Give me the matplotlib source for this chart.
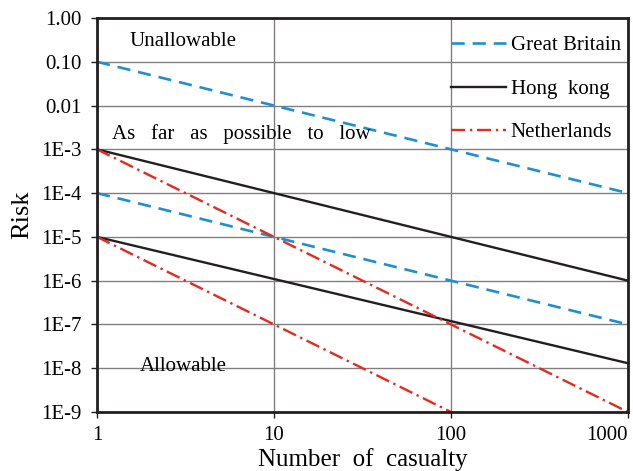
import matplotlib
matplotlib.use('Agg')
import matplotlib.pyplot as plt

plt.rcParams['font.family'] = ['Liberation Serif', 'DejaVu Serif']

# casualty numbers (x) and risk values (y) for each criterion line
gb_x = [1, 1000]
gb_upper = [1e-1, 1e-4]
gb_lower = [1e-4, 1e-7]

hk_x = [1, 1000]
hk_upper = [1e-3, 1e-6]
hk_lower = [1e-5, 1.3e-8]

nl_upper_x = [1, 1000]
nl_upper = [1e-3, 1e-9]
nl_lower_x = [1, 100]
nl_lower = [1e-5, 1e-9]

x_ticks = [1, 10, 100, 1000]
x_labels = ['1', '10', '100', '1000']
y_ticks = [1, 1e-1, 1e-2, 1e-3, 1e-4, 1e-5, 1e-6, 1e-7, 1e-8, 1e-9]
y_labels = ['1.00', '0.10', '0.01', '1E-3', '1E-4', '1E-5', '1E-6', '1E-7', '1E-8', '1E-9']

blue = '#1f8fd2'
black = '#231f20'
red = '#e5291e'

fig = plt.figure(figsize=(6.33, 4.71), dpi=100)
ax = fig.add_axes([97/633, 1 - 412/471, (628 - 97)/633, (412 - 18)/471])

ax.plot(gb_x, gb_upper, color=blue, lw=1.9, ls=(0, (5, 3)), label='Great Britain')
ax.plot(gb_x, gb_lower, color=blue, lw=1.9, ls=(0, (5, 3)))
ax.plot(hk_x, hk_upper, color=black, lw=1.7, label='Hong  kong')
ax.plot(hk_x, hk_lower, color=black, lw=1.7)
ax.plot(nl_upper_x, nl_upper, color=red, lw=1.7, ls=(0, (6, 2, 1, 2)), label='Netherlands')
ax.plot(nl_lower_x, nl_lower, color=red, lw=1.7, ls=(0, (6, 2, 1, 2)))

ax.set_xscale('log')
ax.set_yscale('log')
ax.set_xlim(1, 1000)
ax.set_ylim(1e-9, 1)
ax.set_xticks(x_ticks)
ax.set_xticklabels(x_labels)
ax.set_yticks(y_ticks)
ax.set_yticklabels(y_labels)
ax.minorticks_off()
ax.tick_params(axis='both', labelsize=15, direction='out', length=4, width=1, color=black)
ax.tick_params(axis='x', pad=6)
ax.tick_params(axis='y', pad=7)
ax.get_xticklabels()[-1].set_horizontalalignment('right')

ax.grid(True, color='#808080', lw=1)
ax.set_axisbelow(True)
for s in ax.spines.values():
    s.set_color(black)
    s.set_linewidth(2)

ax.set_xlabel('Number  of  casualty', fontsize=18, labelpad=2)
ax.set_ylabel('Risk', fontsize=19, labelpad=6)

ax.text(0.062, 0.94, 'Unallowable', transform=ax.transAxes, fontsize=15, va='center')
ax.text(0.028, 0.705, 'As   far   as   possible   to   low', transform=ax.transAxes, fontsize=15, va='center')
ax.text(0.08, 0.115, 'Allowable', transform=ax.transAxes, fontsize=15, va='center')

ax.legend(loc='upper right', bbox_to_anchor=(1.02, 1.0), frameon=False, fontsize=15,
          handlelength=2.6, labelspacing=1.15, handletextpad=0.25, borderaxespad=0.45)

fig.savefig('out.png', dpi=100)
